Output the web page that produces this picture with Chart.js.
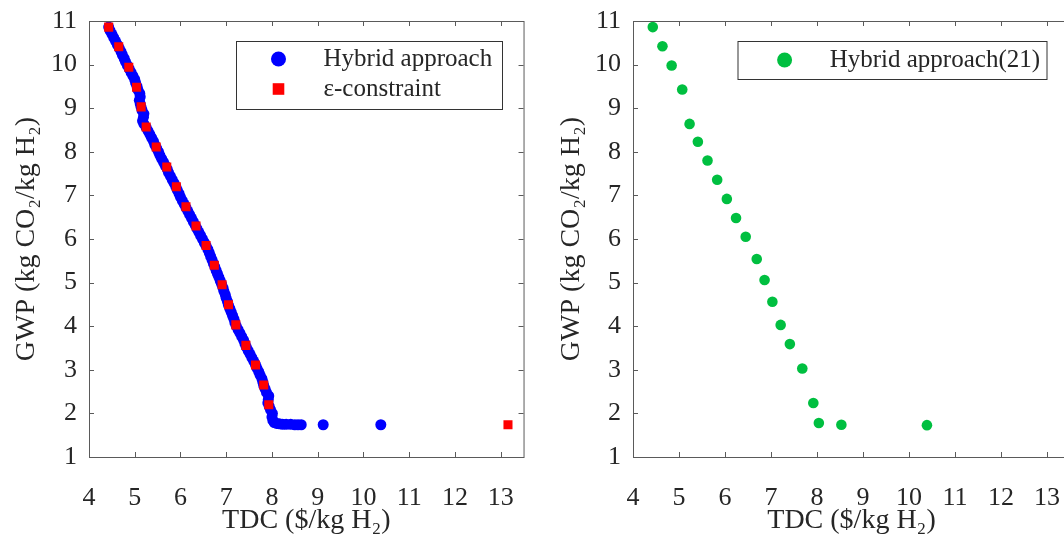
<!DOCTYPE html>
<html>
<head>
<meta charset="utf-8">
<script src="https://cdn.jsdelivr.net/npm/chart.js@4.4.1/dist/chart.umd.min.js"></script>
<style>
    html, body { margin: 0; padding: 0; background: #fff; overflow: hidden; width: 1064px; height: 537px; }
    .panel { position: absolute; top: 0; }
</style>
</head>
<body>
<div class="panel" style="left:0"><canvas id="leftChart" width="532" height="537"></canvas></div>
<div class="panel" style="left:545px"><canvas id="rightChart" width="540" height="537"></canvas></div>
<script>
// tick labels
const xTicks = [4, 5, 6, 7, 8, 9, 10, 11, 12, 13];
const yTicks = [1, 2, 3, 4, 5, 6, 7, 8, 9, 10, 11];

// left panel: hybrid approach (dense front)
const hybridTDC = [4.43, 4.46, 4.50, 4.54, 4.58, 4.62, 4.66, 4.70, 4.73, 4.77, 4.80, 4.84, 4.88, 4.92, 4.96, 5.00,
    5.02, 5.05, 5.07, 5.11, 5.12, 5.10, 5.12, 5.14, 5.16, 5.20, 5.19, 5.17, 5.20, 5.25, 5.29, 5.33, 5.37, 5.41,
    5.44, 5.48, 5.52, 5.55, 5.59, 5.63, 5.67, 5.71, 5.74, 5.78, 5.82, 5.86, 5.90, 5.93, 5.97, 6.00, 6.04, 6.08,
    6.12, 6.16, 6.20, 6.24, 6.28, 6.32, 6.36, 6.40, 6.44, 6.48, 6.52, 6.56, 6.60, 6.63, 6.66, 6.69, 6.72, 6.75,
    6.78, 6.81, 6.84, 6.87, 6.90, 6.93, 6.95, 6.98, 7.00, 7.03, 7.05, 7.08, 7.11, 7.14, 7.17, 7.19, 7.22, 7.26,
    7.30, 7.34, 7.38, 7.41, 7.44, 7.48, 7.52, 7.56, 7.60, 7.64, 7.67, 7.71, 7.74, 7.78, 7.80, 7.82, 7.85, 7.88,
    7.93, 7.92, 7.91, 7.94, 7.97, 8.01, 8.00, 8.02, 8.05, 8.10, 8.16, 8.23, 8.31, 8.41, 8.50, 8.57, 8.64, 9.12, 10.38];
const hybridGWP = [10.86, 10.78, 10.70, 10.62, 10.54, 10.46, 10.38, 10.30, 10.22, 10.14, 10.06, 9.98, 9.90, 9.82, 9.74, 9.66,
    9.58, 9.50, 9.42, 9.34, 9.26, 9.18, 9.10, 9.02, 8.95, 8.87, 8.79, 8.71, 8.64, 8.56, 8.48, 8.40, 8.32, 8.24,
    8.16, 8.08, 8.00, 7.92, 7.84, 7.76, 7.68, 7.60, 7.52, 7.44, 7.36, 7.28, 7.20, 7.12, 7.04, 6.96, 6.88, 6.80,
    6.72, 6.64, 6.56, 6.48, 6.40, 6.32, 6.24, 6.16, 6.08, 6.00, 5.92, 5.84, 5.76, 5.68, 5.60, 5.52, 5.44, 5.36,
    5.28, 5.20, 5.12, 5.04, 4.96, 4.88, 4.80, 4.72, 4.64, 4.56, 4.48, 4.40, 4.32, 4.24, 4.16, 4.08, 4.00, 3.92,
    3.84, 3.76, 3.68, 3.60, 3.52, 3.44, 3.36, 3.28, 3.20, 3.12, 3.04, 2.96, 2.88, 2.80, 2.72, 2.64, 2.56, 2.48,
    2.40, 2.32, 2.24, 2.16, 2.08, 2.00, 1.92, 1.84, 1.79, 1.77, 1.76, 1.75, 1.75, 1.75, 1.74, 1.74, 1.74, 1.74, 1.74];

// left panel: epsilon-constraint
const epsTDC = [4.43, 4.65, 4.87, 5.04, 5.14, 5.25, 5.47, 5.70, 5.91, 6.12, 6.34, 6.56, 6.74, 6.91, 7.05, 7.21, 7.43, 7.64, 7.82, 7.93, 13.16];
const epsGWP = [10.86, 10.41, 9.94, 9.48, 9.03, 8.57, 8.11, 7.65, 7.20, 6.74, 6.30, 5.85, 5.40, 4.95, 4.49, 4.03, 3.56, 3.11, 2.65, 2.20, 1.74];

// right panel: hybrid approach (21 points)
const h21TDC = [4.43, 4.64, 4.84, 5.07, 5.23, 5.41, 5.62, 5.83, 6.04, 6.24, 6.45, 6.69, 6.86, 7.03, 7.21, 7.41, 7.68, 7.92, 8.04, 8.53, 10.39];
const h21GWP = [10.86, 10.42, 9.98, 9.43, 8.64, 8.23, 7.80, 7.36, 6.92, 6.48, 6.05, 5.54, 5.06, 4.56, 4.03, 3.59, 3.03, 2.24, 1.78, 1.74, 1.73];

const FONT = '"Liberation Serif", "Times New Roman", serif';
const TEXT_COLOR = '#262626';
const AXIS_COLOR = '#5a5a5a';

function toPoints(xs, ys) {
    return xs.map((x, i) => ({ x: x, y: ys[i] }));
}

// box round the axes with inward ticks, matlab style
const framePlugin = {
    id: 'frame',
    afterDatasetsDraw(chart) {
        const { ctx, chartArea: a, scales } = chart;
        const len = 5;
        ctx.save();
        ctx.strokeStyle = AXIS_COLOR;
        ctx.lineWidth = 1;
        ctx.strokeRect(a.left + 0.5, a.top + 0.5, a.right - a.left, a.bottom - a.top);
        ctx.beginPath();
        scales.x.ticks.forEach(t => {
            const px = Math.round(scales.x.getPixelForValue(t.value)) + 0.5;
            ctx.moveTo(px, a.bottom); ctx.lineTo(px, a.bottom - len);
            ctx.moveTo(px, a.top); ctx.lineTo(px, a.top + len);
        });
        scales.y.ticks.forEach(t => {
            const py = Math.round(scales.y.getPixelForValue(t.value)) + 0.5;
            ctx.moveTo(a.left, py); ctx.lineTo(a.left + len, py);
            ctx.moveTo(a.right, py); ctx.lineTo(a.right - len, py);
        });
        ctx.stroke();
        ctx.restore();
    }
};

// legend drawn inside the axes
const boxLegend = {
    id: 'boxLegend',
    afterDraw(chart, args, opts) {
        const ctx = chart.ctx;
        ctx.save();
        ctx.fillStyle = '#fff';
        ctx.fillRect(opts.left, opts.top, opts.width, opts.height);
        ctx.strokeStyle = '#333';
        ctx.lineWidth = 1;
        ctx.strokeRect(opts.left + 0.5, opts.top + 0.5, opts.width, opts.height);
        chart.data.datasets.forEach((ds, i) => {
            const cy = opts.top + opts.rowY[i];
            ctx.fillStyle = ds.backgroundColor;
            Chart.helpers.drawPoint(ctx, {
                pointStyle: ds.pointStyle,
                radius: opts.markerRadius[i],
                rotation: 0,
                borderWidth: 0
            }, opts.markerX, cy);
            ctx.fillStyle = TEXT_COLOR;
            ctx.font = '25px ' + FONT;
            ctx.textBaseline = 'middle';
            ctx.textAlign = 'left';
            ctx.fillText(ds.label, opts.textX, cy);
        });
        ctx.restore();
    }
};

function makeScales(yWidth) {
    return {
        x: {
            type: 'linear',
            min: 4,
            max: 13.5,
            afterBuildTicks: s => { s.ticks = xTicks.map(v => ({ value: v })); },
            afterFit: s => { s.height = 80; },
            grid: { display: false },
            border: { display: false },
            ticks: { padding: 18, color: TEXT_COLOR, font: { family: FONT, size: 26 }, maxRotation: 0 },
            title: {
                display: true,
                text: 'TDC ($/kg H\u2082)',
                color: TEXT_COLOR,
                font: { family: FONT, size: 28, lineHeight: 1 },
                padding: { top: 0, bottom: 2 }
            }
        },
        y: {
            type: 'linear',
            min: 1,
            max: 11,
            afterBuildTicks: s => { s.ticks = yTicks.map(v => ({ value: v })); },
            afterFit: s => { s.width = yWidth; },
            grid: { display: false },
            border: { display: false },
            ticks: { padding: 4, color: TEXT_COLOR, font: { family: FONT, size: 26 } },
            title: {
                display: true,
                text: 'GWP (kg CO\u2082/kg H\u2082)',
                color: TEXT_COLOR,
                font: { family: FONT, size: 28, lineHeight: 1 },
                padding: { top: 13, bottom: 0 }
            }
        }
    };
}

new Chart(document.getElementById('leftChart'), {
    type: 'scatter',
    data: {
        datasets: [
            {
                label: 'Hybrid approach',
                data: toPoints(hybridTDC, hybridGWP),
                backgroundColor: '#0000ff',
                pointStyle: 'circle',
                pointRadius: 5.5,
                pointHoverRadius: 5.5,
                borderWidth: 0,
                order: 2
            },
            {
                label: '\u03b5-constraint',
                data: toPoints(epsTDC, epsGWP),
                backgroundColor: '#ff0000',
                pointStyle: 'rect',
                pointRadius: 6.4,
                pointHoverRadius: 6.4,
                borderWidth: 0,
                order: 1
            }
        ]
    },
    options: {
        responsive: false,
        animation: false,
        layout: { padding: { left: 0, top: 21, right: 6, bottom: 0 } },
        scales: makeScales(89),
        plugins: {
            legend: { display: false },
            tooltip: { enabled: false },
            boxLegend: {
                left: 236, top: 41, width: 266, height: 68,
                markerX: 278.5, rowY: [18, 48], markerRadius: [7.5, 8.2], textX: 323.5
            }
        }
    },
    plugins: [framePlugin, boxLegend]
});

new Chart(document.getElementById('rightChart'), {
    type: 'scatter',
    data: {
        datasets: [
            {
                label: 'Hybrid approach(21)',
                data: toPoints(h21TDC, h21GWP),
                backgroundColor: '#00bf40',
                pointStyle: 'circle',
                pointRadius: 5.3,
                pointHoverRadius: 5.3,
                borderWidth: 0
            }
        ]
    },
    options: {
        responsive: false,
        animation: false,
        layout: { padding: { left: 0, top: 21, right: 15, bottom: 0 } },
        scales: makeScales(88),
        plugins: {
            legend: { display: false },
            tooltip: { enabled: false },
            boxLegend: {
                left: 192.5, top: 41, width: 309, height: 38,
                markerX: 239.6, rowY: [19], markerRadius: [7.5], textX: 284.7
            }
        }
    },
    plugins: [framePlugin, boxLegend]
});
</script>
</body>
</html>
